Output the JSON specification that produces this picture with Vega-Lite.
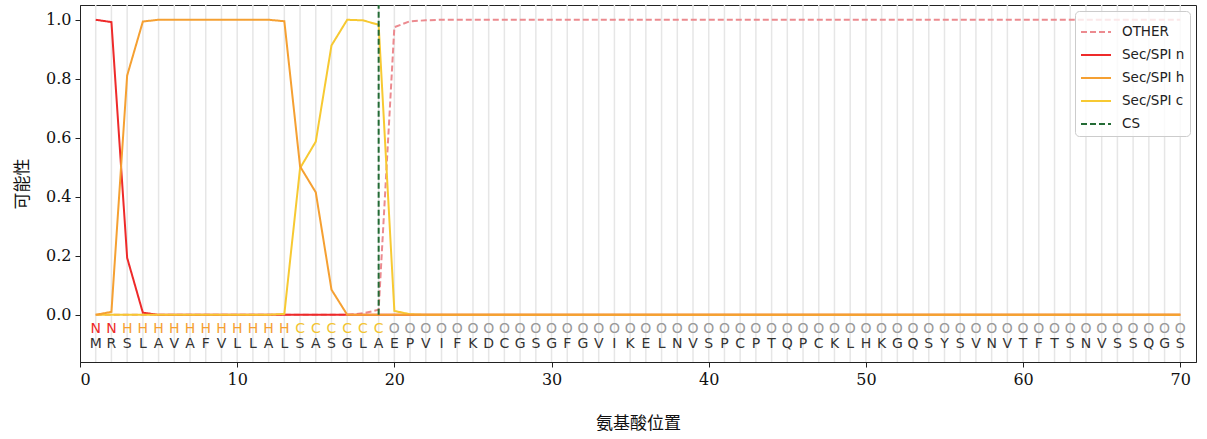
{
 "$schema": "https://vega.github.io/schema/vega-lite/v6.json",
 "width": 1116, "height": 357,
 "autosize": {"type": "none"},
 "padding": {"left": 80, "top": 5, "right": 11, "bottom": 77},
 "background": "white",
 "config": {
  "view": {"stroke": "#222", "strokeWidth": 1},
  "axis": {"domainColor": "#222", "tickColor": "#222", "tickSize": 5, "labelFont": "DejaVu Serif", "labelFontSize": 16, "labelColor": "#111", "titleFont": "Noto Sans CJK SC", "titleFontSize": 17, "titleFontWeight": "normal", "titleColor": "#111", "grid": false},
  "legend": {"orient": "top-right", "offset": 6, "padding": 5, "strokeColor": "#cccccc", "fillColor": "rgba(255,255,255,0.8)", "cornerRadius": 4, "symbolType": "stroke", "symbolStrokeWidth": 2, "symbolSize": 900, "labelFont": "DejaVu Sans", "labelFontSize": 13.5, "labelColor": "#222", "rowPadding": 0, "labelOffset": 10, "titlePadding": 0}
 },
 "datasets": {
  "seq": [
   {"pos": 1, "aa": "M", "state": "N", "OTHER": 0, "Sec/SPI n": 1.0, "Sec/SPI h": 0, "Sec/SPI c": 0},
   {"pos": 2, "aa": "R", "state": "N", "OTHER": 0, "Sec/SPI n": 0.992, "Sec/SPI h": 0.01, "Sec/SPI c": 0},
   {"pos": 3, "aa": "S", "state": "H", "OTHER": 0, "Sec/SPI n": 0.193, "Sec/SPI h": 0.811, "Sec/SPI c": 0},
   {"pos": 4, "aa": "L", "state": "H", "OTHER": 0, "Sec/SPI n": 0.007, "Sec/SPI h": 0.994, "Sec/SPI c": 0},
   {"pos": 5, "aa": "A", "state": "H", "OTHER": 0, "Sec/SPI n": 0, "Sec/SPI h": 1.0, "Sec/SPI c": 0},
   {"pos": 6, "aa": "V", "state": "H", "OTHER": 0, "Sec/SPI n": 0, "Sec/SPI h": 1.0, "Sec/SPI c": 0},
   {"pos": 7, "aa": "A", "state": "H", "OTHER": 0, "Sec/SPI n": 0, "Sec/SPI h": 1.0, "Sec/SPI c": 0},
   {"pos": 8, "aa": "F", "state": "H", "OTHER": 0, "Sec/SPI n": 0, "Sec/SPI h": 1.0, "Sec/SPI c": 0},
   {"pos": 9, "aa": "V", "state": "H", "OTHER": 0, "Sec/SPI n": 0, "Sec/SPI h": 1.0, "Sec/SPI c": 0},
   {"pos": 10, "aa": "L", "state": "H", "OTHER": 0, "Sec/SPI n": 0, "Sec/SPI h": 1.0, "Sec/SPI c": 0},
   {"pos": 11, "aa": "L", "state": "H", "OTHER": 0, "Sec/SPI n": 0, "Sec/SPI h": 1.0, "Sec/SPI c": 0},
   {"pos": 12, "aa": "A", "state": "H", "OTHER": 0, "Sec/SPI n": 0, "Sec/SPI h": 1.0, "Sec/SPI c": 0},
   {"pos": 13, "aa": "L", "state": "H", "OTHER": 0, "Sec/SPI n": 0, "Sec/SPI h": 0.995, "Sec/SPI c": 0.003},
   {"pos": 14, "aa": "S", "state": "C", "OTHER": 0, "Sec/SPI n": 0, "Sec/SPI h": 0.503, "Sec/SPI c": 0.497},
   {"pos": 15, "aa": "A", "state": "C", "OTHER": 0, "Sec/SPI n": 0, "Sec/SPI h": 0.415, "Sec/SPI c": 0.587},
   {"pos": 16, "aa": "S", "state": "C", "OTHER": 0, "Sec/SPI n": 0, "Sec/SPI h": 0.085, "Sec/SPI c": 0.913},
   {"pos": 17, "aa": "G", "state": "C", "OTHER": 0, "Sec/SPI n": 0, "Sec/SPI h": 0.0, "Sec/SPI c": 1.0},
   {"pos": 18, "aa": "L", "state": "C", "OTHER": 0.005, "Sec/SPI n": 0, "Sec/SPI h": 0, "Sec/SPI c": 0.998},
   {"pos": 19, "aa": "A", "state": "C", "OTHER": 0.017, "Sec/SPI n": 0, "Sec/SPI h": 0, "Sec/SPI c": 0.983},
   {"pos": 20, "aa": "E", "state": "O", "OTHER": 0.975, "Sec/SPI n": 0, "Sec/SPI h": 0, "Sec/SPI c": 0.013},
   {"pos": 21, "aa": "P", "state": "O", "OTHER": 0.995, "Sec/SPI n": 0, "Sec/SPI h": 0, "Sec/SPI c": 0.002},
   {"pos": 22, "aa": "V", "state": "O", "OTHER": 0.998, "Sec/SPI n": 0, "Sec/SPI h": 0, "Sec/SPI c": 0},
   {"pos": 23, "aa": "I", "state": "O", "OTHER": 1.0, "Sec/SPI n": 0, "Sec/SPI h": 0, "Sec/SPI c": 0},
   {"pos": 24, "aa": "F", "state": "O", "OTHER": 1.0, "Sec/SPI n": 0, "Sec/SPI h": 0, "Sec/SPI c": 0},
   {"pos": 25, "aa": "K", "state": "O", "OTHER": 1.0, "Sec/SPI n": 0, "Sec/SPI h": 0, "Sec/SPI c": 0},
   {"pos": 26, "aa": "D", "state": "O", "OTHER": 1.0, "Sec/SPI n": 0, "Sec/SPI h": 0, "Sec/SPI c": 0},
   {"pos": 27, "aa": "C", "state": "O", "OTHER": 1.0, "Sec/SPI n": 0, "Sec/SPI h": 0, "Sec/SPI c": 0},
   {"pos": 28, "aa": "G", "state": "O", "OTHER": 1.0, "Sec/SPI n": 0, "Sec/SPI h": 0, "Sec/SPI c": 0},
   {"pos": 29, "aa": "S", "state": "O", "OTHER": 1.0, "Sec/SPI n": 0, "Sec/SPI h": 0, "Sec/SPI c": 0},
   {"pos": 30, "aa": "G", "state": "O", "OTHER": 1.0, "Sec/SPI n": 0, "Sec/SPI h": 0, "Sec/SPI c": 0},
   {"pos": 31, "aa": "F", "state": "O", "OTHER": 1.0, "Sec/SPI n": 0, "Sec/SPI h": 0, "Sec/SPI c": 0},
   {"pos": 32, "aa": "G", "state": "O", "OTHER": 1.0, "Sec/SPI n": 0, "Sec/SPI h": 0, "Sec/SPI c": 0},
   {"pos": 33, "aa": "V", "state": "O", "OTHER": 1.0, "Sec/SPI n": 0, "Sec/SPI h": 0, "Sec/SPI c": 0},
   {"pos": 34, "aa": "I", "state": "O", "OTHER": 1.0, "Sec/SPI n": 0, "Sec/SPI h": 0, "Sec/SPI c": 0},
   {"pos": 35, "aa": "K", "state": "O", "OTHER": 1.0, "Sec/SPI n": 0, "Sec/SPI h": 0, "Sec/SPI c": 0},
   {"pos": 36, "aa": "E", "state": "O", "OTHER": 1.0, "Sec/SPI n": 0, "Sec/SPI h": 0, "Sec/SPI c": 0},
   {"pos": 37, "aa": "L", "state": "O", "OTHER": 1.0, "Sec/SPI n": 0, "Sec/SPI h": 0, "Sec/SPI c": 0},
   {"pos": 38, "aa": "N", "state": "O", "OTHER": 1.0, "Sec/SPI n": 0, "Sec/SPI h": 0, "Sec/SPI c": 0},
   {"pos": 39, "aa": "V", "state": "O", "OTHER": 1.0, "Sec/SPI n": 0, "Sec/SPI h": 0, "Sec/SPI c": 0},
   {"pos": 40, "aa": "S", "state": "O", "OTHER": 1.0, "Sec/SPI n": 0, "Sec/SPI h": 0, "Sec/SPI c": 0},
   {"pos": 41, "aa": "P", "state": "O", "OTHER": 1.0, "Sec/SPI n": 0, "Sec/SPI h": 0, "Sec/SPI c": 0},
   {"pos": 42, "aa": "C", "state": "O", "OTHER": 1.0, "Sec/SPI n": 0, "Sec/SPI h": 0, "Sec/SPI c": 0},
   {"pos": 43, "aa": "P", "state": "O", "OTHER": 1.0, "Sec/SPI n": 0, "Sec/SPI h": 0, "Sec/SPI c": 0},
   {"pos": 44, "aa": "T", "state": "O", "OTHER": 1.0, "Sec/SPI n": 0, "Sec/SPI h": 0, "Sec/SPI c": 0},
   {"pos": 45, "aa": "Q", "state": "O", "OTHER": 1.0, "Sec/SPI n": 0, "Sec/SPI h": 0, "Sec/SPI c": 0},
   {"pos": 46, "aa": "P", "state": "O", "OTHER": 1.0, "Sec/SPI n": 0, "Sec/SPI h": 0, "Sec/SPI c": 0},
   {"pos": 47, "aa": "C", "state": "O", "OTHER": 1.0, "Sec/SPI n": 0, "Sec/SPI h": 0, "Sec/SPI c": 0},
   {"pos": 48, "aa": "K", "state": "O", "OTHER": 1.0, "Sec/SPI n": 0, "Sec/SPI h": 0, "Sec/SPI c": 0},
   {"pos": 49, "aa": "L", "state": "O", "OTHER": 1.0, "Sec/SPI n": 0, "Sec/SPI h": 0, "Sec/SPI c": 0},
   {"pos": 50, "aa": "H", "state": "O", "OTHER": 1.0, "Sec/SPI n": 0, "Sec/SPI h": 0, "Sec/SPI c": 0},
   {"pos": 51, "aa": "K", "state": "O", "OTHER": 1.0, "Sec/SPI n": 0, "Sec/SPI h": 0, "Sec/SPI c": 0},
   {"pos": 52, "aa": "G", "state": "O", "OTHER": 1.0, "Sec/SPI n": 0, "Sec/SPI h": 0, "Sec/SPI c": 0},
   {"pos": 53, "aa": "Q", "state": "O", "OTHER": 1.0, "Sec/SPI n": 0, "Sec/SPI h": 0, "Sec/SPI c": 0},
   {"pos": 54, "aa": "S", "state": "O", "OTHER": 1.0, "Sec/SPI n": 0, "Sec/SPI h": 0, "Sec/SPI c": 0},
   {"pos": 55, "aa": "Y", "state": "O", "OTHER": 1.0, "Sec/SPI n": 0, "Sec/SPI h": 0, "Sec/SPI c": 0},
   {"pos": 56, "aa": "S", "state": "O", "OTHER": 1.0, "Sec/SPI n": 0, "Sec/SPI h": 0, "Sec/SPI c": 0},
   {"pos": 57, "aa": "V", "state": "O", "OTHER": 1.0, "Sec/SPI n": 0, "Sec/SPI h": 0, "Sec/SPI c": 0},
   {"pos": 58, "aa": "N", "state": "O", "OTHER": 1.0, "Sec/SPI n": 0, "Sec/SPI h": 0, "Sec/SPI c": 0},
   {"pos": 59, "aa": "V", "state": "O", "OTHER": 1.0, "Sec/SPI n": 0, "Sec/SPI h": 0, "Sec/SPI c": 0},
   {"pos": 60, "aa": "T", "state": "O", "OTHER": 1.0, "Sec/SPI n": 0, "Sec/SPI h": 0, "Sec/SPI c": 0},
   {"pos": 61, "aa": "F", "state": "O", "OTHER": 1.0, "Sec/SPI n": 0, "Sec/SPI h": 0, "Sec/SPI c": 0},
   {"pos": 62, "aa": "T", "state": "O", "OTHER": 1.0, "Sec/SPI n": 0, "Sec/SPI h": 0, "Sec/SPI c": 0},
   {"pos": 63, "aa": "S", "state": "O", "OTHER": 1.0, "Sec/SPI n": 0, "Sec/SPI h": 0, "Sec/SPI c": 0},
   {"pos": 64, "aa": "N", "state": "O", "OTHER": 1.0, "Sec/SPI n": 0, "Sec/SPI h": 0, "Sec/SPI c": 0},
   {"pos": 65, "aa": "V", "state": "O", "OTHER": 1.0, "Sec/SPI n": 0, "Sec/SPI h": 0, "Sec/SPI c": 0},
   {"pos": 66, "aa": "S", "state": "O", "OTHER": 1.0, "Sec/SPI n": 0, "Sec/SPI h": 0, "Sec/SPI c": 0},
   {"pos": 67, "aa": "S", "state": "O", "OTHER": 1.0, "Sec/SPI n": 0, "Sec/SPI h": 0, "Sec/SPI c": 0},
   {"pos": 68, "aa": "Q", "state": "O", "OTHER": 1.0, "Sec/SPI n": 0, "Sec/SPI h": 0, "Sec/SPI c": 0},
   {"pos": 69, "aa": "G", "state": "O", "OTHER": 1.0, "Sec/SPI n": 0, "Sec/SPI h": 0, "Sec/SPI c": 0},
   {"pos": 70, "aa": "S", "state": "O", "OTHER": 1.0, "Sec/SPI n": 0, "Sec/SPI h": 0, "Sec/SPI c": 0}
  ]
 },
 "layer": [
  {
   "data": {"name": "seq"},
   "mark": {"type": "rule", "color": "#e6e6e6", "strokeWidth": 1.5},
   "encoding": {
    "x": {"field": "pos", "type": "quantitative", "scale": {"domain": [0, 71], "nice": false, "zero": false}, "title": "氨基酸位置"}
   }
  },
  {
   "data": {"name": "seq"},
   "transform": [{"fold": ["OTHER", "Sec/SPI n", "Sec/SPI c", "Sec/SPI h"], "as": ["series", "p"]}],
   "mark": {"type": "line", "strokeWidth": 2, "clip": true},
   "encoding": {
    "x": {"field": "pos", "type": "quantitative", "scale": {"domain": [0, 71], "nice": false, "zero": false}, "title": "氨基酸位置", "axis": {"values": [0, 10, 20, 30, 40, 50, 60, 70], "titlePadding": 28, "labelPadding": 4}},
    "y": {"field": "p", "type": "quantitative", "scale": {"domain": [-0.16, 1.05], "nice": false, "zero": false}, "title": "可能性", "axis": {"values": [0, 0.2, 0.4, 0.6, 0.8, 1.0], "format": ".1f", "titlePadding": 14, "labelPadding": 4}},
    "color": {"field": "series", "type": "nominal", "scale": {"domain": ["OTHER", "Sec/SPI n", "Sec/SPI h", "Sec/SPI c", "CS"], "range": ["#ec8a8f", "#ee2a2a", "#f5a032", "#f7c932", "#236b35"]}, "legend": {"title": null}},
    "strokeDash": {"field": "series", "type": "nominal", "scale": {"domain": ["OTHER", "Sec/SPI n", "Sec/SPI h", "Sec/SPI c", "CS"], "range": [[6, 3], [1, 0], [1, 0], [1, 0], [6, 3]]}, "legend": {"title": null}}
   }
  },
  {
   "data": {"values": [{"series": "CS", "pos": 19}]},
   "mark": {"type": "rule", "strokeWidth": 2},
   "encoding": {
    "x": {"field": "pos", "type": "quantitative", "title": "氨基酸位置"},
    "y": {"datum": 0, "type": "quantitative", "title": "可能性"},
    "y2": {"datum": 1.05},
    "color": {"field": "series", "type": "nominal", "legend": {"title": null}},
    "strokeDash": {"field": "series", "type": "nominal", "legend": {"title": null}}
   }
  },
  {
   "data": {"name": "seq"},
   "mark": {"type": "text", "font": "DejaVu Sans", "fontSize": 14, "baseline": "middle", "align": "center"},
   "encoding": {
    "x": {"field": "pos", "type": "quantitative", "title": "氨基酸位置"},
    "y": {"datum": -0.047, "type": "quantitative", "title": "可能性"},
    "text": {"field": "state"},
    "color": {"condition": [
      {"test": "datum.state === 'N'", "value": "#ee2a2a"},
      {"test": "datum.state === 'H'", "value": "#f5a032"},
      {"test": "datum.state === 'C'", "value": "#f2c432"}
     ], "value": "#999999"}
   }
  },
  {
   "data": {"name": "seq"},
   "mark": {"type": "text", "font": "DejaVu Sans", "fontSize": 14, "baseline": "middle", "align": "center", "color": "#333333"},
   "encoding": {
    "x": {"field": "pos", "type": "quantitative", "title": "氨基酸位置"},
    "y": {"datum": -0.098, "type": "quantitative", "title": "可能性"},
    "text": {"field": "aa"}
   }
  }
 ]
}
